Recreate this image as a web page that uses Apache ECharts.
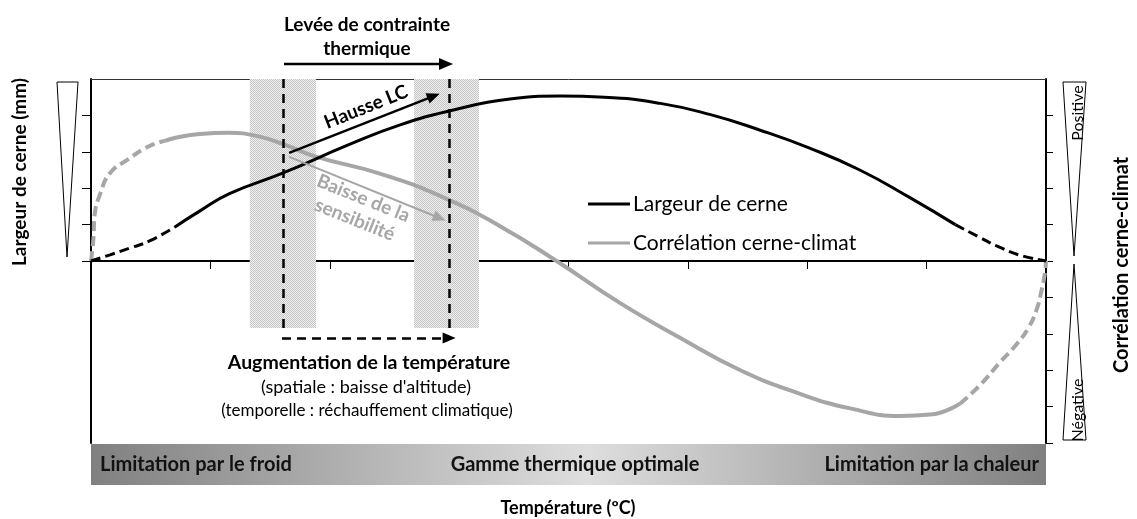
<!DOCTYPE html>
<html>
<head>
<meta charset="utf-8">
<title>Largeur de cerne / corrélation cerne-climat</title>
<script src="https://cdn.jsdelivr.net/npm/echarts@6.0.0/dist/echarts.min.js"></script>
<style>
  html, body { margin: 0; padding: 0; background: #fff; }
  #chart { width: 1137px; height: 519px; }
</style>
</head>
<body>
<div id="chart"></div>
<script>
// courbe noire : largeur de cerne (x = température, y = unités d'axe)
const largeurDebut = [[0, 0], [0.16, 0.17], [0.33, 0.36], [0.49, 0.55], [0.7, 0.93]];
const largeurMilieu = [[0.7, 0.93], [0.91, 1.37], [1.16, 1.85], [1.61, 2.42], [2.17, 3.21], [2.59, 3.74],
  [3.0, 4.12], [3.51, 4.45], [3.93, 4.53], [4.3, 4.5], [4.77, 4.33], [5.19, 4.02], [5.6, 3.6],
  [6.02, 3.1], [6.44, 2.5], [6.86, 1.74], [7.24, 1.0]];
const largeurFin = [[7.24, 1.0], [7.45, 0.64], [7.61, 0.38], [7.78, 0.16], [8, 0]];

// courbe grise : corrélation cerne-climat
const correlDebut = [[0, 0], [0.02, 0.6], [0.03, 1.25], [0.08, 1.87], [0.16, 2.42], [0.3, 2.77], [0.49, 3.16], [0.62, 3.3]];
const correlMilieu = [[0.62, 3.3], [0.7, 3.38], [0.91, 3.49], [1.16, 3.52], [1.42, 3.41], [1.61, 3.21], [1.89, 2.86],
  [2.42, 2.4], [2.95, 1.75], [3.43, 0.95], [3.9, 0], [4.43, -1.15], [4.93, -2.1], [5.44, -3.0],
  [5.94, -3.65], [6.36, -4.05], [6.78, -4.26], [7.03, -4.22], [7.28, -3.92]];
const correlFin = [[7.28, -3.92], [7.45, -3.4], [7.61, -2.8], [7.75, -2.3], [7.85, -1.85], [7.92, -1.35],
  [7.96, -0.85], [7.99, -0.35], [8, 0]];

const xTicks = [1, 2, 3, 4, 5, 6, 7];
const yTicksGauche = [0, 1, 2, 3, 4];
const yTicksDroite = [-5, -4, -3, -2, -1, 0, 1, 2, 3, 4];

// zones grisées et repères en pointillés
const bandes = [[1.33, 1.885], [2.706, 3.25]];
const reperes = [1.608, 3.0];
const basZones = -1.84;

const legendeNoms = ["Largeur de cerne", "Corrélation cerne-climat"];
const zonesThermiques = ["Limitation par le froid", "Gamme thermique optimale", "Limitation par la chaleur"];

const FONT = "Lato, 'Open Sans', sans-serif";
const NOIR = "#000";
const GRIS = "#a6a6a6";

// petite trame pointillée pour les zones grisées
const trame = document.createElement("canvas");
trame.width = 2;
trame.height = 2;
const tctx = trame.getContext("2d");
tctx.fillStyle = "#efefef";
tctx.fillRect(0, 0, 2, 2);
tctx.fillStyle = "#c6c6c6";
tctx.fillRect(0, 0, 1, 1);
tctx.fillRect(1, 1, 1, 1);

const chart = echarts.init(document.getElementById("chart"), null, { renderer: "canvas" });

function courbe(name, data, color, width, dashed) {
  return {
    name: name,
    type: "line",
    data: data,
    smooth: 0.5,
    symbol: "none",
    silent: true,
    itemStyle: { color: color },
    lineStyle: { color: color, width: width, type: dashed ? [10, 5] : "solid" }
  };
}

function fleche(from, to, color, width) {
  return {
    type: "line",
    data: [],
    silent: true,
    z: 6,
    markLine: {
      silent: true,
      animation: false,
      symbol: ["none", "triangle"],
      symbolSize: [11, 13],
      label: { show: false },
      lineStyle: { color: color, width: width, type: "solid" },
      data: [[{ coord: from }, { coord: to }]]
    }
  };
}

function texte(t, x, y, size, extra) {
  return Object.assign({
    type: "text",
    x: x,
    y: y,
    z: 10,
    style: Object.assign({
      text: t, fontFamily: FONT, fontSize: size, fill: NOIR, align: "center", verticalAlign: "middle"
    }, extra && extra.style)
  }, extra && extra.props);
}

let option = {
  animation: false,
  grid: { left: 91, right: 91, top: 79, bottom: 76, containLabel: false },
  legend: {
    data: legendeNoms,
    orient: "vertical",
    left: 588,
    top: 192,
    padding: 0,
    icon: "rect",
    itemWidth: 42,
    itemHeight: 3,
    itemGap: 15,
    selectedMode: false,
    textStyle: { fontFamily: FONT, fontSize: 21, lineHeight: 24, color: NOIR, padding: [0, 0, 0, -2] }
  },
  xAxis: [
    {
      type: "value",
      min: 0,
      max: 8,
      interval: 1,
      axisLine: { onZero: true, lineStyle: { color: NOIR, width: 2 } },
      axisTick: { show: true, length: 8, customValues: xTicks, lineStyle: { color: NOIR, width: 1 } },
      axisLabel: { show: false },
      splitLine: { show: false }
    },
    {
      type: "value",
      position: "top",
      min: 0,
      max: 8,
      axisLine: { show: true, onZero: false, lineStyle: { color: "#333", width: 1 } },
      axisTick: { show: false },
      axisLabel: { show: false },
      splitLine: { show: false }
    }
  ],
  yAxis: [
    {
      type: "value",
      position: "left",
      min: -5,
      max: 5,
      interval: 1,
      axisLine: { show: true, onZero: false, lineStyle: { color: NOIR, width: 2 } },
      axisTick: { show: true, length: 9, customValues: yTicksGauche, lineStyle: { color: NOIR, width: 1 } },
      axisLabel: { show: false },
      splitLine: { show: false }
    },
    {
      type: "value",
      position: "right",
      min: -5,
      max: 5,
      interval: 1,
      axisLine: { show: true, onZero: false, lineStyle: { color: NOIR, width: 2 } },
      axisTick: { show: true, length: 7, customValues: yTicksDroite, lineStyle: { color: NOIR, width: 1 } },
      axisLabel: { show: false },
      splitLine: { show: false }
    }
  ],
  series: [
    // zones grisées
    {
      type: "line",
      data: [],
      silent: true,
      z: 1,
      markArea: {
        silent: true,
        itemStyle: { color: { image: trame, repeat: "repeat" } },
        data: bandes.map(b => [{ coord: [b[0], 5] }, { coord: [b[1], basZones] }])
      }
    },
    courbe(legendeNoms[1], correlMilieu, GRIS, 4, false),
    courbe(legendeNoms[1], correlDebut, GRIS, 4, true),
    courbe(legendeNoms[1], correlFin, GRIS, 4, true),
    courbe(legendeNoms[0], largeurMilieu, NOIR, 3, false),
    courbe(legendeNoms[0], largeurDebut, NOIR, 3, true),
    courbe(legendeNoms[0], largeurFin, NOIR, 3, true),
    // repères verticaux en pointillés
    {
      type: "line",
      data: [],
      silent: true,
      z: 5,
      markLine: {
        silent: true,
        animation: false,
        symbol: ["none", "none"],
        label: { show: false },
        lineStyle: { color: NOIR, width: 2.5, type: [9, 6] },
        data: reperes.map(x => [{ coord: [x, 5] }, { coord: [x, basZones] }])
      }
    },
    // flèche pointillée : augmentation de la température
    {
      type: "line",
      data: [],
      silent: true,
      z: 5,
      markLine: {
        silent: true,
        animation: false,
        symbol: ["none", "triangle"],
        symbolSize: [11, 13],
        label: { show: false },
        lineStyle: { color: NOIR, width: 2.5, type: [9, 6] },
        data: [[{ coord: [1.6, -2.115] }, { coord: [3.0, -2.115] }]]
      }
    },
    fleche([1.66, 2.97], [2.87, 4.53], NOIR, 2.5),
    fleche([1.66, 2.86], [2.92, 1.18], GRIS, 2)
  ],
  graphic: [
    // triangles des axes
    { type: "polygon", shape: { points: [[57, 82], [78, 82], [67, 257]] }, style: { fill: "#fff", stroke: NOIR, lineWidth: 1 } },
    { type: "polygon", shape: { points: [[1063, 82], [1086, 82], [1074, 256]] }, style: { fill: "#fff", stroke: NOIR, lineWidth: 1 } },
    { type: "polygon", shape: { points: [[1074, 264], [1063, 440], [1086, 440]] }, style: { fill: "#fff", stroke: NOIR, lineWidth: 1 } },
    texte("Positive", 1078, 113, 16, { props: { rotation: Math.PI / 2 } }),
    texte("Négative", 1078, 410, 16, { props: { rotation: Math.PI / 2 } }),

    // titres des axes
    texte("Largeur de cerne (mm)", 20, 172, 19, { props: { rotation: Math.PI / 2 }, style: { fontWeight: "bold" } }),
    texte("Corrélation cerne-climat", 1122, 265, 20, { props: { rotation: Math.PI / 2 }, style: { fontWeight: "bold" } }),
    texte("Température (ºC)", 568, 508, 18, { style: { fontWeight: "bold" } }),

    // levée de contrainte thermique
    texte("Levée de contrainte", 367, 25, 19, { style: { fontWeight: "bold" } }),
    texte("thermique", 367, 49, 19, { style: { fontWeight: "bold" } }),
    { type: "line", shape: { x1: 284, y1: 64, x2: 441, y2: 64 }, style: { stroke: NOIR, lineWidth: 2.5 } },
    { type: "polygon", shape: { points: [[439, 58], [453, 64], [439, 70]] }, style: { fill: NOIR } },

    texte("Hausse LC", 366, 107, 19, { props: { rotation: 0.377 }, style: { fontWeight: "bold" } }),
    texte("Baisse de la\nsensibilité", 359, 209, 19, { props: { rotation: -0.38 }, style: { fontWeight: "bold", lineHeight: 23, fill: GRIS } }),

    // augmentation de la température
    texte("Augmentation de la température", 369, 363, 19.5, { style: { fontWeight: "bold" } }),
    texte("(spatiale : baisse d'altitude)", 366, 387, 18),
    texte("(temporelle : réchauffement climatique)", 367, 411, 17),

    // bandeau des zones thermiques
    {
      type: "rect",
      z: 2,
      shape: { x: 91, y: 444, width: 955, height: 41 },
      style: {
        fill: new echarts.graphic.LinearGradient(0, 0, 1, 0, [
          { offset: 0, color: "#808080" },
          { offset: 0.52, color: "#dedede" },
          { offset: 1, color: "#808080" }
        ])
      }
    },
    texte(zonesThermiques[0], 100, 465, 20, { style: { fontWeight: "bold", fill: "#111", align: "left" } }),
    texte(zonesThermiques[1], 575, 465, 20, { style: { fontWeight: "bold", fill: "#111" } }),
    texte(zonesThermiques[2], 1039, 465, 20, { style: { fontWeight: "bold", fill: "#111", align: "right" } })
  ]
};

chart.setOption(option);
</script>
</body>
</html>
